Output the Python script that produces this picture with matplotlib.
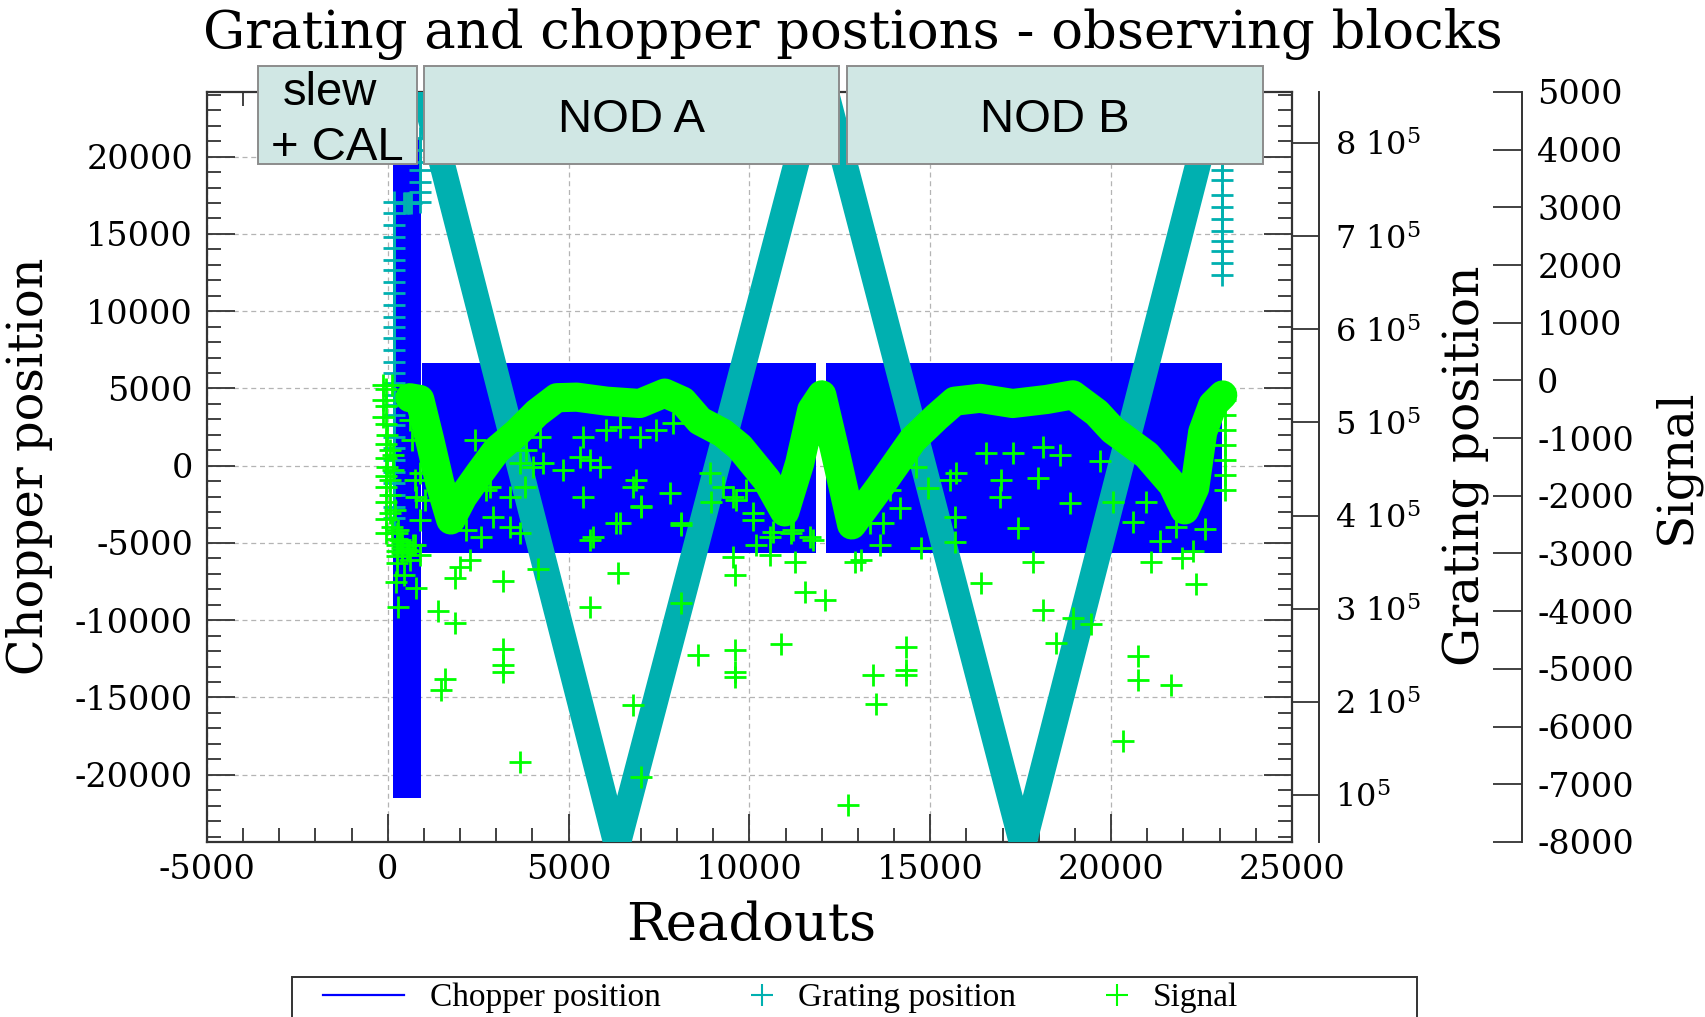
import numpy as np
import matplotlib
matplotlib.use("Agg")
import matplotlib.pyplot as plt
from matplotlib.lines import Line2D
from matplotlib.patches import Rectangle
from matplotlib.ticker import MultipleLocator
from matplotlib.legend_handler import HandlerLine2DCompound

plt.rcParams['font.family'] = 'DejaVu Serif'
plt.rcParams['axes.unicode_minus'] = False
plt.rcParams['mathtext.fontset'] = 'dejavuserif'

# ---------------- data ----------------
# chopper: fast chopping, drawn as the band it fills (readouts, chopper units)
chop_start = [147, 940, 12111]
chop_end = [932, 11834, 23052]
chop_high = [21210, 6630, 6630]
chop_low = [-21510, -5630, -5630]

# grating scan turning points (readouts, grating units)
grat_x = [932, 6340, 11966, 17560, 23052]
grat_y = [864000, 44000, 877000, 44000, 875000]

# grating readings during slew + CAL and at the end of NOD B
grat_cal_x = ([166] * 29 + [885] * 7 + [440, 480, 520, 560, 600, 640]
              + [23060] * 11)
grat_cal_y = [736700, 724800, 712000, 699100, 687300, 674400, 663700, 650800,
              639000, 626100, 613200, 602500, 590600, 577800, 564900, 553100,
              542300, 529500, 518700, 508000, 497200, 484400, 472500, 459700,
              446800, 435000, 422100, 409200, 397400,
              805400, 792500, 779600, 771000, 758100, 747400, 736700,
              736000, 736000, 736000, 736000, 736000, 736000,
              778500, 770500, 760300, 744200, 731300, 718400, 705000, 694800,
              684000, 671200, 658300]

# signal: main trace
sig_x = [608, 885, 1161, 1438, 1742, 2074, 2544, 3014, 3567, 4120, 4672, 5225,
         6055, 6967, 7658, 8156, 8626, 9262, 9732, 10478, 10976, 11391, 11723,
         12000, 12358, 12828, 13602, 14515, 15178, 15676, 16367, 17280, 18220,
         18938, 19602, 20044, 20984, 21703, 22035, 22311, 22533, 22809, 23086]
sig_y = [-300, -330, -1032, -1777, -2419, -2020, -1604, -1205, -911, -564, -300,
         -290, -360, -400, -220, -360, -700, -911, -1153, -1725, -2280, -1431,
         -512, -250, -1205, -2505, -1847, -1032, -633, -360, -310, -400, -330,
         -250, -560, -859, -1292, -1812, -2245, -1864, -893, -425, -252]

# signal: scattered readings
sig_pts_x = [-140, -140, -140, -30, 55, -30, 55, 55, 55, 110, 332, 525, 608, 249,
             747, 885, 442, 277, 194, 138, 138, 885, 1023, 747, 664, 608, 110,
             -60, -60, -60, -60, -60, -60, -60, -60, -60, -60,
             250, 250, 250, 250, 250, 400, 400, 400, 600, 700,
             2267, 1991, 1853, 3188, 4156, 241, 794, 285, 1391, 1853, 3188, 3188,
             3188, 1576, 1485, 3669, 5585, 6368, 9548, 9595, 10562, 11254, 11530,
             12083, 8121, 8580, 9595, 9595, 9595, 10886, 6783, 7015, 12912, 13098,
             14757, 16416, 17843, 18119, 18489, 18949, 14342, 14342, 14342, 13419,
             13512, 12727, 15678, 21094, 21947, 22267, 22360, 19457, 20746, 20746,
             21669, 20331,
             2406, 2729, 2912, 2176, 2591, 3373, 3650, 3373, 3788, 4018, 4847,
             5400, 5585, 5400, 5585, 4294, 2820, 885, 794, 6415, 6877, 7015, 7790,
             8121, 5677, 5309, 5862, 6047, 6968, 7430, 7888, 6415, 8903, 9271,
             9548, 9918, 10101, 10562, 11207, 11668, 4203, 3835, 3650, 6323, 8121,
             7015, 6783, 8950, 9641, 10101, 10654, 11162, 11760, 10194, 13604,
             15678, 17428, 16922, 16969, 17981, 18857, 14157, 13695, 13327, 14939,
             15724, 15539, 16554, 17290, 18119, 18581, 14618, 13880, 21346, 20608,
             20978, 22590, 20054, 19687, 21807,
             23143, 23143, 23143, 23143, 23143, 23143, 23143]
sig_pts_y = [-80, -340, -630, -950, -1205, -1500, -1725, -1985, -2300, -2540,
             -2765, -2938, -3112, -3163, -2852, -3025, -3372, -2592, -2245, -1552,
             -1292, -2418, -2072, -1725, -1032, -685, -80,
             -150, -450, -750, -1100, -1350, -1650, -1850, -2100, -2400, -2650,
             -2850, -2950, -3050, -2750, -2650, -2900, -3000, -2800, -2950, -2850,
             -3111, -3227, -3423, -3470, -3262, -3488, -3602, -3921, -3990, -4198,
             -4659, -4932, -5053, -5179, -5365, -6607, -3921, -3342, -3054, -3372,
             -3025, -3141, -3661, -3805, -3862, -4758, -4672, -5053, -5140, -4567,
             -5625, -6867, -3141, -3112, -2909, -3516, -3141, -3978, -4555, -4122,
             -4614, -5018, -5105, -5105, -5607, -7358, -2794, -3150, -3082, -2956,
             -3528, -4221, -4772, -5191, -5278, -6252,
             -1032, -1898, -2361, -2592, -2708, -2534, -2648, -2014, -1841, -1494,
             -1552, -2014, -2765, -974, -1378, -1436, -1841, -1604, -2014, -2476,
             -1725, -2188, -1956, -2476, -2707, -1321, -1494, -858, -974, -858,
             -742, -801, -1609, -1841, -2014, -1898, -2302, -2707, -2592, -2707,
             -974, -1205, -1436, -2476, -2505, -2170, -1841, -2101, -2072, -2418,
             -2621, -2649, -2765, -2852, -2852, -2361, -2562, -2014, -1725, -1696,
             -2130, -2216, -2476, -2476, -1869, -1609, -1725, -1262, -1262, -1147,
             -1292, -1494, -1898, -2782, -2447, -2106, -2574, -2106, -1391, -2533,
             -338, -598, -858, -1118, -1378, -1638, -1898]

grat_ticks = [100000, 200000, 300000, 400000, 500000, 600000, 700000, 800000]
grat_labels = ['10$^5$', '2 10$^5$', '3 10$^5$', '4 10$^5$',
               '5 10$^5$', '6 10$^5$', '7 10$^5$', '8 10$^5$']

blocks = ['slew', 'NOD A', 'NOD B']

c_chop = '#0000ff'
c_grat = '#00b0b0'
c_sig = '#00ff00'


class MarkerRight(HandlerLine2DCompound):
    # gnuplot puts the point sample close to the text
    def get_xdata(self, legend, xdescent, ydescent, width, height, fontsize):
        xdata, xm = super().get_xdata(legend, xdescent, ydescent, width,
                                      height, fontsize)
        return xdata, [-xdescent + 0.88 * width]


# ---------------- figure ----------------
fig = plt.figure(figsize=(17.06, 10.17), dpi=100)
ax = fig.add_axes([0.1213, 0.1721, 0.6360, 0.7375])

for s, e, hi, lo in zip(chop_start, chop_end, chop_high, chop_low):
    ax.fill_between([s, e], lo, hi, color=c_chop, lw=0)

ax.set_xlim(-5000, 25000)
ax.set_ylim(-24350, 24190)
ax.xaxis.set_major_locator(MultipleLocator(5000))
ax.xaxis.set_minor_locator(MultipleLocator(1000))
ax.yaxis.set_major_locator(MultipleLocator(5000))
ax.yaxis.set_minor_locator(MultipleLocator(1000))
ax.set_axisbelow(True)
ax.grid(True, which='major', color='#b4b4b4', linestyle=(0, (4, 3)), lw=0.9)

# grating axis
gax = ax.twinx()
gax.plot(grat_x, grat_y, color=c_grat, lw=18.5, solid_joinstyle='miter',
         solid_capstyle='butt')
gax.plot(grat_cal_x, grat_cal_y, ls='none', marker='+', color=c_grat,
         markersize=16.5, mew=2.0)
gax.set_ylim(49500, 854800)
gax.set_yticks(grat_ticks)
gax.set_yticklabels(grat_labels)
gax.spines['right'].set_position(('outward', 19.4))

# signal axis
sax = ax.twinx()
sax.plot(sig_x, sig_y, color=c_sig, lw=21, solid_joinstyle='round',
         solid_capstyle='round')
sax.plot(sig_pts_x, sig_pts_y, ls='none', marker='+', color=c_sig,
         markersize=16.5, mew=2.0)
sax.set_ylim(-8000, 5000)
sax.yaxis.set_major_locator(MultipleLocator(1000))
sax.spines['right'].set_position(('outward', 165.6))

for a in (gax, sax):
    for side in ('left', 'top', 'bottom'):
        a.spines[side].set_visible(False)
    a.spines['right'].set_linewidth(1.4)
    a.spines['right'].set_color('#333333')

for side in ax.spines:
    ax.spines[side].set_linewidth(1.6)
    ax.spines[side].set_color('#333333')

ax.tick_params(which='major', direction='in', length=20, width=1.3,
               top=True, right=True, labelsize=24, color='#333333')
ax.tick_params(which='minor', direction='in', length=10, width=1.3,
               top=True, right=True, color='#333333')
ax.tick_params(axis='x', pad=9)
ax.tick_params(axis='y', pad=10)
gax.tick_params(axis='y', direction='in', length=19.4, width=1.3,
                labelsize=23, pad=11.5, color='#333333')
sax.tick_params(axis='y', direction='in', length=20.9, width=1.3,
                labelsize=24, pad=11, color='#333333')

# labels and title
fig.text(0.5, 0.9666, 'Grating and chopper postions - observing blocks',
         ha='center', va='center', fontsize=38)
fig.text(0.4402, 0.0895, 'Readouts', ha='center', va='center', fontsize=38)
fig.text(0.017, 0.5418, 'Chopper position', rotation=90, ha='center',
         va='center', fontsize=34.5)
fig.text(0.8599, 0.5418, 'Grating position', rotation=90, ha='center',
         va='center', fontsize=35)
fig.text(0.9824, 0.5418, 'Signal', rotation=90, ha='center', va='center',
         fontsize=35)

# observing block boxes
box_kw = dict(transform=fig.transFigure, facecolor='#d0e7e4',
              edgecolor='#8c8c8c', lw=1.4)
fig.patches.append(Rectangle((0.1512, 0.8387), 0.0932, 0.0964, **box_kw))
fig.patches.append(Rectangle((0.2485, 0.8387), 0.2433, 0.0964, **box_kw))
fig.patches.append(Rectangle((0.4965, 0.8387), 0.2438, 0.0964, **box_kw))
sans = ['Liberation Sans', 'DejaVu Sans']
fig.text(330 / 1706, 1 - 105 / 1017, blocks[0], ha='center', va='baseline',
         fontsize=34, family=sans)
fig.text(337 / 1706, 1 - 160 / 1017, '+ CAL', ha='center', va='baseline',
         fontsize=34, family=sans)
fig.text(632 / 1706, 1 - 132 / 1017, blocks[1], ha='center', va='baseline',
         fontsize=34, family=sans)
fig.text(1055 / 1706, 1 - 132 / 1017, blocks[2], ha='center', va='baseline',
         fontsize=34, family=sans)

# legend
handles = [
    Line2D([], [], color=c_chop, lw=1.6),
    Line2D([], [], color=c_grat, marker='+', ls='none', markersize=16, mew=1.5),
    Line2D([], [], color=c_sig, marker='+', ls='none', markersize=16, mew=1.5),
]
fig.legend(handles, ['Chopper position', 'Grating position', 'Signal'],
           loc='center left', bbox_to_anchor=(0.1716, 0.0187), ncol=3,
           frameon=False, handlelength=2.43, handletextpad=0.78,
           columnspacing=0.9, numpoints=1,
           handler_map={handles[1]: MarkerRight(), handles[2]: MarkerRight()},
           prop={'family': ['Liberation Serif', 'DejaVu Serif'], 'size': 24})
fig.patches.append(Rectangle((0.1712, -0.03), 0.6594, 0.0693,
                             transform=fig.transFigure, facecolor='none',
                             edgecolor='#333333', lw=1.4))

fig.savefig('out.png', dpi=100)
